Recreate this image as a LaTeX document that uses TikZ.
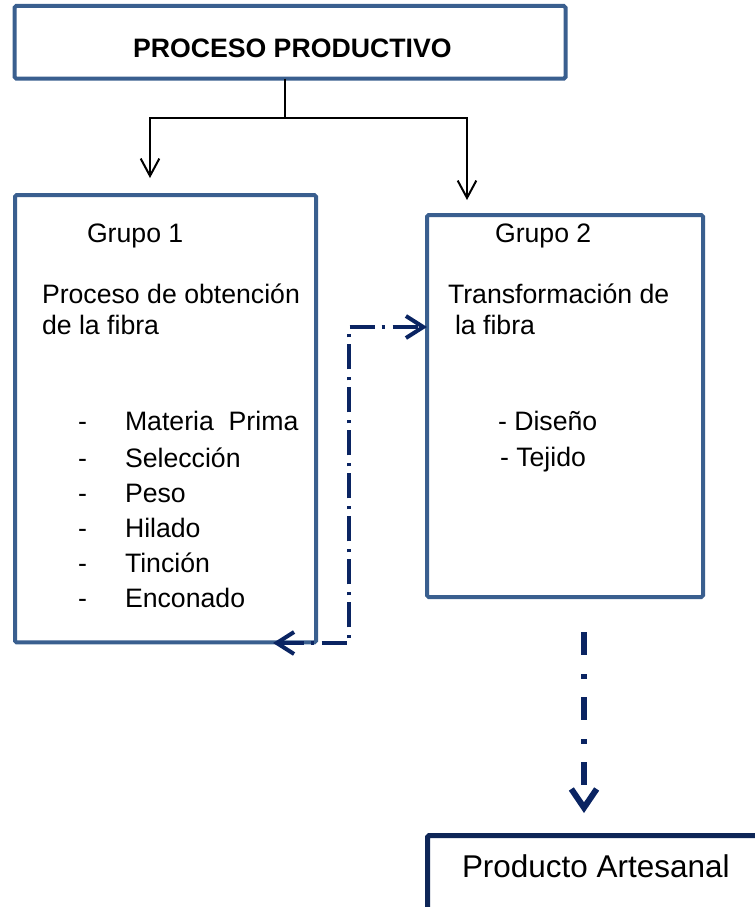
\documentclass[tikz,border=0pt]{standalone}
\usepackage{fontspec}
\setmainfont{Liberation Sans}
\usetikzlibrary{arrows.meta}
\definecolor{boxblue}{HTML}{3A5F8F}
\definecolor{navy}{HTML}{0A2462}
\definecolor{prodnavy}{HTML}{0E2657}
\tikzset{
  box/.style={draw=boxblue, line width=3pt, rounded corners=1.2pt, fill=white, inner sep=0pt, outer sep=0pt},
  txt/.style={anchor=base west, inner sep=0pt, outer sep=0pt, font=\fontsize{20}{23}\selectfont},
  blk/.style={draw=black, line width=1.5pt},
  blkarrow/.style={blk, -{Straight Barb[length=13pt,width=14pt]}},
  dd/.style={draw=navy, line width=3pt, dash pattern=on 18.75pt off 5.25pt on 2.25pt off 6pt},
  ddarrow/.style={dd, {Straight Barb[length=13pt,width=16.5pt]}-{Straight Barb[length=13pt,width=16.5pt]}},
  bigdd/.style={draw=navy, line width=4.5pt, dash pattern=on 17.25pt off 14.25pt on 3.75pt off 13.5pt,
    -{Straight Barb[length=14pt,width=19pt]}}
}
\begin{document}
\begin{tikzpicture}[x=0.75pt,y=-0.75pt]
\useasboundingbox (0,0) rectangle (755,907);
\clip (0,0) rectangle (755,907);

% boxes
\node[box, minimum width=413.25pt, minimum height=54.4pt] (top) at (290,42.25) {};
\node[box, minimum width=225.75pt, minimum height=335.6pt] (g1) at (165.5,418.75) {};
\node[box, minimum width=207pt, minimum height=286.5pt] (g2) at (565,406) {};
\node[box, draw=prodnavy, line width=3.75pt, minimum width=300pt, minimum height=90pt] (prod) at (627.5,895.5) {};

% texts
\node[txt, font=\fontsize{20}{23}\selectfont\bfseries] (tt) at (133,57) {PROCESO PRODUCTIVO};

\node[txt] (g1t) at (87,242) {Grupo 1};
\node[txt] (g1a) at (42,303) {Proceso de obtención};
\node[txt] (g1b) at (42,334) {de la fibra};
\foreach \y/\t [count=\i] in {430/Materia\ \ Prima,467/Selección,502/Peso,537/Hilado,572/Tinción,607/Enconado}{
  \node[txt] (d\i) at (78,\y) {-};
  \node[txt] (it\i) at (125,\y) {\t};
}

\node[txt] (g2t) at (495,242) {Grupo 2};
\node[txt] (g2a) at (448,303) {Transformación de};
\node[txt] (g2b) at (455,334) {la fibra};
\node[txt] (g2c) at (498,430) {- Diseño};
\node[txt] (g2d) at (500,466) {- Tejido};

\node[txt, font=\fontsize{23.6}{27}\selectfont] (pt) at (462,877) {Producto Artesanal};

% black connectors
\coordinate (j) at (285,118);
\coordinate (a1) at (150,178);
\coordinate (a2) at (467,200);
\draw[blk] ([xshift=-3.75pt]top.south) -- (j);
\draw[blkarrow] (j) -| (a1);
\draw[blkarrow] (j) -| (a2);

% group connector
\coordinate (c1) at (273,643);
\coordinate (c2) at (349,643);
\coordinate (c3) at (349,327);
\draw[ddarrow] (c1) -- (c2) -- (c3) -- (g2.west |- c3);

% to product
\coordinate (b1) at (584,632);
\coordinate (b2) at (584,813);
\draw[bigdd] (b1) -- (b2);
\end{tikzpicture}
\end{document}
